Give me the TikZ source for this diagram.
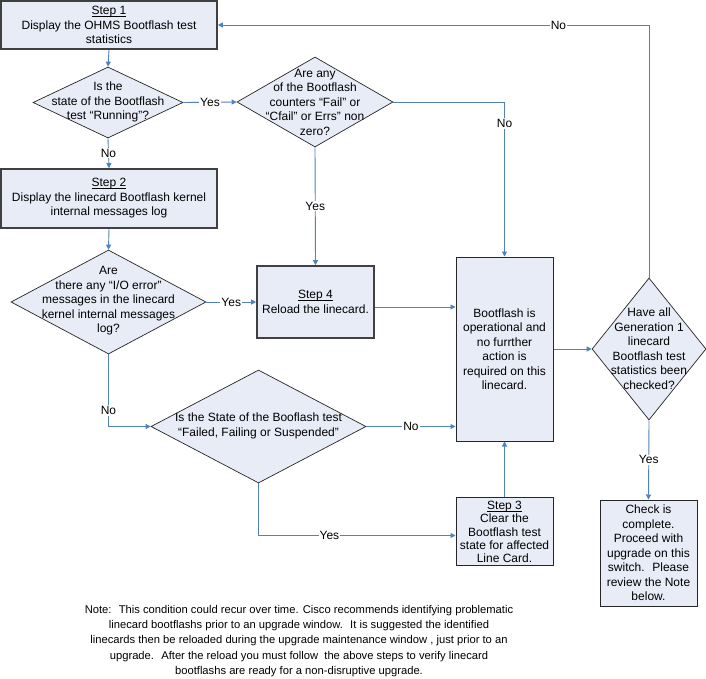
\documentclass[tikz,border=0pt]{standalone}
\usepackage{fontspec}
\setmainfont{Liberation Sans}
\usetikzlibrary{arrows.meta,shapes.geometric}
\definecolor{fillb}{HTML}{E8ECF7}
\definecolor{lineb}{HTML}{4F81BD}
\definecolor{bord}{HTML}{404040}
\newcommand{\ulstep}[1]{\setbox0\hbox{#1}\rlap{\vrule height -1.4pt depth 2.1pt width \wd0}\box0}
\begin{document}
\begin{tikzpicture}[x=1pt,y=-1pt,
  font=\fontsize{12}{14.5}\selectfont,
  stepbox/.style={draw=bord,line width=1.6pt,fill=fillb,rectangle,inner sep=0pt,align=center},
  plainbox/.style={draw=black!85,line width=1pt,fill=fillb,rectangle,inner sep=0pt,align=center},
  dec/.style={draw=black!85,line width=0.7pt,fill=fillb,diamond,inner sep=0pt},
  txt/.style={inner sep=0pt,align=center},
  conn/.style={draw=lineb,line width=0.9pt,-{Triangle[length=5pt,width=5pt]}},
  lab/.style={fill=white,inner sep=1pt}]
\useasboundingbox[fill=white] (0,0) rectangle (706,679);
% boxes
\node[stepbox,minimum width=216pt,minimum height=48pt] (s1) at (109,25) {\ulstep{Step 1}\\Display the OHMS Bootflash test\\statistics};
\node[stepbox,minimum width=216pt,minimum height=59pt] (s2) at (109,198.5) {\ulstep{Step 2}\\Display the linecard Bootflash kernel\\internal messages log};
\node[stepbox,minimum width=117pt,minimum height=72pt] (s4) at (315.5,302) {\ulstep{Step 4}\\Reload the linecard.};
\node[plainbox,minimum width=97pt,minimum height=184pt] (bf) at (504.5,349) {Bootflash is\\operational and\\no furrther\\action is\\required on this\\linecard.};
\node[plainbox,minimum width=97pt,minimum height=68pt] (s3) at (504.5,531.5) {};
\node[txt,font=\fontsize{12}{13.4}\selectfont] (s3t) at (504.5,532) {\ulstep{Step 3}\\Clear the\\Bootflash test\\state for affected\\Line Card.};
\node[plainbox,minimum width=97pt,minimum height=106pt] (ck) at (648.5,553) {Check is\\complete.\\Proceed with\\upgrade on this\\switch.~ Please\\review the Note\\below.};
% decisions
\node[dec,minimum width=150pt,minimum height=71pt] (d1) at (108,102.5) {};
\node[txt] (d1t) at (108,102) {Is the\\state of the Bootflash\\test “Running”?};
\node[dec,minimum width=156pt,minimum height=90pt] (d2) at (315,102) {};
\node[txt] (d2t) at (315,102) {Are any\\of the Bootflash\\counters “Fail” or\\“Cfail” or Errs” non\\zero?};
\node[dec,minimum width=195pt,minimum height=104pt] (d3) at (108.5,302) {};
\node[txt] (d3t) at (108.5,301) {Are\\there any “I/O error”\\messages in the linecard\\kernel internal messages\\log?};
\node[dec,minimum width=215pt,minimum height=113pt] (d4) at (258.5,426.5) {};
\node[txt] (d4t) at (258.5,426) {Is the State of the Booflash test\\“Failed, Failing or Suspended”};
\node[dec,minimum width=114pt,minimum height=142pt] (d5) at (649,349) {};
\node[txt] (d5t) at (649,348.5) {Have all\\Generation 1\\linecard\\Bootflash test\\statistics been\\checked?};
% connectors
\draw[conn] (s1.south) -- (d1.north);
\draw[conn] (d1.east) -- node[lab]{Yes} (d2.west);
\draw[conn] (d1.south) -- node[lab]{No} (s2.north);
\draw[conn] (d2.east) -| node[lab,pos=0.57]{No} (bf.north);
\draw[conn] (d2.south) -- node[lab]{Yes} (s4.north);
\draw[conn] (s2.south) -- (d3.north);
\draw[conn] (d3.east) -- node[lab]{Yes} (s4.west);
\draw[conn] ([yshift=-5pt]s4.east) -- ([yshift=-5pt]s4.east -| bf.west);
\draw[conn] (d3.south) |- node[lab,pos=0.39]{No} (d4.west);
\draw[conn] (d4.east) -- node[lab]{No} (d4.east -| bf.west);
\draw[conn] (d4.south) |- node[lab,pos=0.68]{Yes} ([yshift=-4pt]s3.west);
\draw[conn] (s3.north) -- (bf.south);
\draw[conn] (bf.east) -- (d5.west);
\draw[conn] (d5.north) |- node[lab,pos=0.605]{No} (s1.east);
\draw[conn] (d5.south) -- node[lab]{Yes} (ck.north);
% note
\node[txt,font=\fontsize{11.2}{15.2}\selectfont] (note) at (299,641) {Note:~ This condition could recur over time. Cisco recommends identifying problematic\\linecard bootflashs prior to an upgrade window.~ It is suggested the identified\\linecards then be reloaded during the upgrade maintenance window , just prior to an\\upgrade.~ After the reload you must follow~ the above steps to verify linecard\\bootflashs are ready for a non-disruptive upgrade.};
\end{tikzpicture}
\end{document}
